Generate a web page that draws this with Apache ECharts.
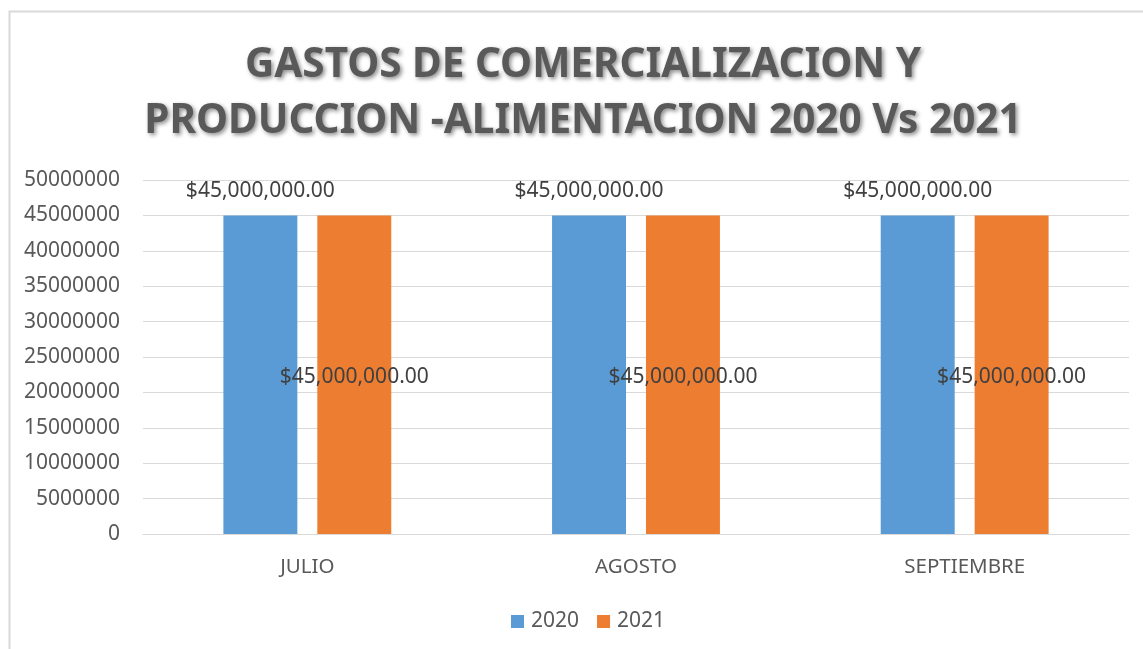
<!DOCTYPE html>
<html>
<head>
<meta charset="utf-8">
<script src="https://cdn.jsdelivr.net/npm/echarts@6/dist/echarts.min.js"></script>
<style>html,body{margin:0;padding:0;background:#fff;}#c{width:1143px;height:649px;}</style>
</head>
<body>
<div id="c"></div>
<script>
const categories = ['JULIO', 'AGOSTO', 'SEPTIEMBRE'];
const values2020 = [45000000, 45000000, 45000000];
const values2021 = [45000000, 45000000, 45000000];
const seriesNames = ['2020', '2021'];
const titleLines = ['GASTOS DE COMERCIALIZACION Y', 'PRODUCCION -ALIMENTACION 2020 Vs 2021'];

const FONT = '"Noto Sans", sans-serif';
function money(v) {
  return '$' + Number(v).toLocaleString('en-US', {minimumFractionDigits: 2, maximumFractionDigits: 2});
}
const titleStyle = {fontFamily: FONT, fontWeight: 'bold', fontSize: 40.5,
  fill: '#595959', textAlign: 'center', textVerticalAlign: 'middle',
  textShadowColor: 'rgba(0,0,0,0.45)', textShadowBlur: 4, textShadowOffsetX: 2, textShadowOffsetY: 2};
const chart = echarts.init(document.getElementById('c'), null, {renderer: 'canvas'});
chart.setOption({
  backgroundColor: '#ffffff',
  animation: false,
  graphic: [
    {type: 'rect', left: 7, top: 9, shape: {x: 0, y: 0, width: 1200, height: 700},
     style: {fill: 'none', stroke: '#d9d9d9', lineWidth: 2}, silent: true},
    {type: 'text', x: 583, y: 65, style: Object.assign({text: titleLines[0]}, titleStyle)},
    {type: 'text', x: 583, y: 121, style: Object.assign({text: titleLines[1]}, titleStyle)}
  ],
  grid: {left: 143, right: 14, top: 180, bottom: 115, containLabel: false},
  legend: {
    data: seriesNames, bottom: 12, left: 506, itemWidth: 13, itemHeight: 13, itemGap: 18,
    icon: 'rect',
    textStyle: {fontFamily: FONT, fontSize: 21, color: '#595959', padding: [0, 0, 0, 2]}
  },
  xAxis: {
    type: 'category', data: categories,
    axisLine: {show: true, lineStyle: {color: '#d9d9d9', width: 1}},
    axisTick: {show: false},
    axisLabel: {fontFamily: FONT, fontSize: 20.5, color: '#595959', margin: 23}
  },
  yAxis: {
    type: 'value', min: 0, max: 50000000, interval: 5000000,
    axisLine: {show: false}, axisTick: {show: false},
    splitLine: {lineStyle: {color: '#d9d9d9', width: 1}},
    axisLabel: {fontFamily: FONT, fontSize: 21, color: '#595959', margin: 23, formatter: v => String(v)}
  },
  series: [
    {name: seriesNames[0], type: 'bar', data: values2020, barWidth: '22.5%', barGap: '27%',
     itemStyle: {color: '#5B9BD5'},
     label: {show: true, position: 'top', distance: 14, formatter: p => money(p.value),
       fontFamily: FONT, fontSize: 21, color: '#404040'}},
    {name: seriesNames[1], type: 'bar', data: values2021, barWidth: '22.5%', barGap: '27%',
     itemStyle: {color: '#ED7D31'},
     label: {show: true, position: 'inside', offset: [0, 2], formatter: p => money(p.value),
       fontFamily: FONT, fontSize: 21, color: '#404040'}}
  ]
});
</script>
</body>
</html>
